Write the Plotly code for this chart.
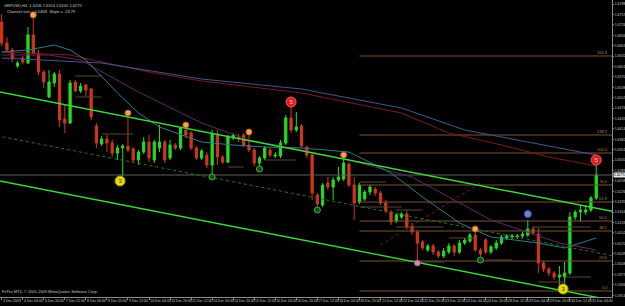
import plotly.graph_objects as go

# ---------------- data ----------------
bars = list(range(114))
opens = [1.6734,1.6671,1.6650,1.6602,1.6626,1.6611,1.6695,1.6641,1.6584,1.6509,
         1.6551,1.6578,1.6443,1.6431,1.6554,1.6527,1.6545,1.6533,1.6422,1.6368,
         1.6383,1.6371,1.6341,1.6356,1.6362,1.6353,1.6320,1.6344,1.6374,1.6320,
         1.6356,1.6374,1.6326,1.6365,1.6356,1.6410,1.6401,1.6356,1.6326,1.6335,
         1.6305,1.6398,1.6329,1.6314,1.6386,1.6389,1.6395,1.6365,1.6350,1.6311,
         1.6326,1.6350,1.6332,1.6332,1.6371,1.6446,1.6410,1.6422,1.6359,1.6335,
         1.6215,1.6185,1.6251,1.6239,1.6260,1.6263,1.6308,1.6245,1.6194,1.6203,
         1.6224,1.6233,1.6221,1.6191,1.6164,1.6137,1.6149,1.6158,1.6122,1.6104,
         1.6074,1.6050,1.6062,1.6044,1.6032,1.6044,1.6062,1.6044,1.6071,1.6077,
         1.6095,1.6050,1.6080,1.6044,1.6056,1.6071,1.6086,1.6089,1.6089,1.6092,
         1.6095,1.6113,1.6098,1.6011,1.5993,1.5981,1.5969,1.5969,1.5981,1.6149,
         1.6164,1.6164,1.6170,1.6206]
highs = [1.6758,1.6689,1.6656,1.6617,1.6632,1.6719,1.6749,1.6650,1.6590,1.6590,
         1.6584,1.6590,1.6485,1.6560,1.6560,1.6551,1.6548,1.6536,1.6431,1.6392,
         1.6395,1.6380,1.6365,1.6368,1.6455,1.6359,1.6350,1.6389,1.6395,1.6380,
         1.6425,1.6380,1.6380,1.6371,1.6419,1.6425,1.6407,1.6362,1.6353,1.6344,
         1.6410,1.6410,1.6335,1.6395,1.6401,1.6398,1.6401,1.6398,1.6356,1.6332,
         1.6362,1.6356,1.6344,1.6380,1.6455,1.6488,1.6464,1.6428,1.6362,1.6341,
         1.6221,1.6251,1.6269,1.6269,1.6299,1.6329,1.6314,1.6269,1.6251,1.6230,
         1.6245,1.6239,1.6227,1.6200,1.6170,1.6161,1.6164,1.6170,1.6131,1.6110,
         1.6080,1.6068,1.6068,1.6050,1.6056,1.6071,1.6068,1.6080,1.6086,1.6101,
         1.6107,1.6056,1.6086,1.6065,1.6080,1.6095,1.6098,1.6098,1.6098,1.6104,
         1.6140,1.6122,1.6116,1.6017,1.5999,1.5987,1.6002,1.6014,1.6164,1.6170,
         1.6185,1.6185,1.6212,1.6314]
lows = [1.6662,1.6641,1.6614,1.6596,1.6608,1.6608,1.6635,1.6575,1.6536,1.6506,
        1.6539,1.6419,1.6401,1.6428,1.6524,1.6521,1.6512,1.6440,1.6356,1.6362,
        1.6344,1.6329,1.6320,1.6272,1.6344,1.6311,1.6305,1.6338,1.6314,1.6311,
        1.6344,1.6311,1.6320,1.6350,1.6350,1.6386,1.6350,1.6320,1.6320,1.6296,
        1.6275,1.6305,1.6308,1.6311,1.6380,1.6374,1.6359,1.6344,1.6302,1.6299,
        1.6320,1.6329,1.6326,1.6326,1.6365,1.6401,1.6404,1.6356,1.6326,1.6200,
        1.6176,1.6179,1.6230,1.6200,1.6254,1.6257,1.6239,1.6140,1.6188,1.6197,
        1.6215,1.6212,1.6185,1.6161,1.6125,1.6131,1.6143,1.6113,1.6095,1.6011,
        1.6050,1.6044,1.6035,1.6026,1.6026,1.6038,1.6032,1.6038,1.6065,1.6071,
        1.6044,1.6026,1.6038,1.6038,1.6050,1.6065,1.6080,1.6083,1.6083,1.6086,
        1.6089,1.6095,1.5981,1.5984,1.5972,1.5960,1.5945,1.5942,1.5975,1.6140,
        1.6134,1.6155,1.6164,1.6200]
closes = [1.6671,1.6650,1.6623,1.6611,1.6614,1.6695,1.6641,1.6584,1.6554,1.6554,
          1.6578,1.6440,1.6431,1.6551,1.6527,1.6542,1.6530,1.6449,1.6371,1.6383,
          1.6371,1.6341,1.6356,1.6362,1.6350,1.6320,1.6344,1.6374,1.6326,1.6374,
          1.6374,1.6320,1.6365,1.6356,1.6416,1.6395,1.6356,1.6326,1.6347,1.6305,
          1.6398,1.6329,1.6314,1.6389,1.6395,1.6383,1.6365,1.6350,1.6311,1.6326,
          1.6356,1.6335,1.6335,1.6371,1.6446,1.6410,1.6419,1.6362,1.6335,1.6221,
          1.6188,1.6245,1.6239,1.6260,1.6269,1.6311,1.6245,1.6191,1.6245,1.6224,
          1.6239,1.6221,1.6191,1.6167,1.6134,1.6155,1.6158,1.6119,1.6104,1.6071,
          1.6056,1.6062,1.6044,1.6032,1.6047,1.6062,1.6044,1.6071,1.6080,1.6095,
          1.6050,1.6038,1.6044,1.6059,1.6071,1.6089,1.6092,1.6092,1.6092,1.6098,
          1.6113,1.6101,1.6011,1.5993,1.5981,1.5969,1.5975,1.5981,1.6149,1.6164,
          1.6170,1.6170,1.6206,1.6275]

date_tick_bars = list(range(0, 114, 4))
date_labels = ["3 Dec 2009", "4 Dec 04:00", "4 Dec 20:00", "7 Dec 12:00", "8 Dec 04:00",
               "8 Dec 20:00", "9 Dec 12:00", "10 Dec 04:00", "10 Dec 20:00", "11 Dec 12:00",
               "14 Dec 04:00", "14 Dec 20:00", "15 Dec 12:00", "16 Dec 04:00", "16 Dec 20:00",
               "17 Dec 12:00", "18 Dec 04:00", "18 Dec 20:00", "21 Dec 12:00", "22 Dec 04:00",
               "22 Dec 20:00", "23 Dec 12:00", "24 Dec 04:00", "24 Dec 20:00", "28 Dec 12:00",
               "29 Dec 04:00", "29 Dec 20:00", "30 Dec 12:00", "31 Dec 04:00"]

price_ticks = [1.6788, 1.6757, 1.6726, 1.6694, 1.6663, 1.6632, 1.6601, 1.6570, 1.6538,
               1.6507, 1.6476, 1.6445, 1.6414, 1.6382, 1.6351, 1.6320, 1.6289, 1.6258,
               1.6226, 1.6195, 1.6164, 1.6133, 1.6102, 1.6070, 1.6039, 1.6008, 1.5977,
               1.5946, 1.5914]

# moving averages (sampled at bar indices)
ma_fast_x = [0, 5, 10, 13, 16, 19, 22, 26, 30, 38, 44, 50, 57, 66, 74, 80, 87, 93, 102, 107, 112, 113]
ma_fast_y = [1.6644, 1.6650, 1.6665, 1.6650, 1.6620, 1.6569, 1.6521, 1.6461, 1.6419, 1.6374, 1.6365,
             1.6359, 1.6356, 1.6344, 1.6281, 1.6209, 1.6131, 1.6089, 1.6071, 1.6056, 1.6080, 1.6086]
ma_mid_x = [0, 9, 15, 26, 38, 47, 57, 66, 78, 93, 106, 113]
ma_mid_y = [1.6635, 1.6635, 1.6620, 1.6524, 1.6431, 1.6380, 1.6350, 1.6320, 1.6269, 1.6140, 1.6071, 1.6050]
ma_slow_red_x = [0, 13, 19, 28, 38, 57, 76, 85, 95, 104, 113]
ma_slow_red_y = [1.6644, 1.6635, 1.6614, 1.6584, 1.6557, 1.6521, 1.6461, 1.6401, 1.6365, 1.6329, 1.6302]
ma_slow_blue_x = [0, 19, 38, 57, 76, 88, 100, 113]
ma_slow_blue_y = [1.6626, 1.6611, 1.6563, 1.6533, 1.6476, 1.6410, 1.6374, 1.6335]

# regression channel
chan_x = [-1, 117]
chan_upper = [1.6526, 1.6163]
chan_mid = [1.6393, 1.6030]
chan_lower = [1.6259, 1.5896]
red_diag_x = [72, 91]
red_diag_y = [1.6065, 1.6251]

# fibonacci levels
fib_start = 68
fib_levels = [1.6632, 1.6395, 1.6341, 1.6245, 1.6194, 1.6137, 1.6107, 1.6017, 1.5927]
fib_names = ["161.8", "138.2", "100.0", "76.4", "61.8", "50.0", "38.2", "23.6", "0.0"]

# short support / resistance segments (start bar, end bar, price)
seg_x0 = [14, 14, 19, 43, 50, 68, 68, 75, 75, 79, 85, 92, 101, 102, 107]
seg_x1 = [19, 19, 25, 46, 56, 73, 76, 80, 84, 84, 90, 97, 112, 107, 112]
seg_y = [1.6572, 1.6509, 1.6398, 1.6299, 1.6320, 1.6254, 1.6179, 1.6170, 1.6119, 1.6014, 1.6086,
         1.6020, 1.6119, 1.5954, 1.5969]

# signal markers
frac_up_x = [6, 24, 35, 47, 65, 90]
frac_up_y = [1.6755, 1.6461, 1.6425, 1.6404, 1.6335, 1.6113]
frac_dn_x = [40, 49, 60, 91]
frac_dn_y = [1.6269, 1.6293, 1.6170, 1.6020]
red_sig_x = [55, 113]
red_sig_y = [1.6494, 1.6320]
yel_sig_x = [22.5, 106.7]
yel_sig_y = [1.6257, 1.5933]
blue_sig_x = [100]
blue_sig_y = [1.6158]
pink_sig_x = [79]
pink_sig_y = [1.6011]

# ---------------- figure ----------------
fig = go.Figure()

def line(x, y, color, width=1, dash="solid"):
    fig.add_trace(go.Scatter(x=x, y=y, mode="lines", hoverinfo="skip",
                             line=dict(color=color, width=width, dash=dash)))

# bid line, fib and segments (behind)
line([-1, 117], [closes[-1], closes[-1]], "#5e5e5e", 1)
fx, fy = [], []
for lv in fib_levels:
    fx += [fib_start, 117, None]
    fy += [lv, lv, None]
line(fx, fy, "#7a5230", 1)
sx, sy = [], []
for a, b, v in zip(seg_x0, seg_x1, seg_y):
    sx += [a, b, None]
    sy += [v, v, None]
line(sx, sy, "#5a4636", 1)

# moving averages
line(ma_slow_red_x, ma_slow_red_y, "#7e1a1a", 1)
line(ma_slow_blue_x, ma_slow_blue_y, "#44568e", 1)
line(ma_mid_x, ma_mid_y, "#5e2a5c", 1)
line(ma_fast_x, ma_fast_y, "#2f7c8a", 1)
line(red_diag_x, red_diag_y, "#7a2020", 1, "dot")

fig.add_trace(go.Candlestick(
    x=bars, open=opens, high=highs, low=lows, close=closes,
    increasing=dict(line=dict(color="#22dd22", width=1), fillcolor="#22dd22"),
    decreasing=dict(line=dict(color="#d2361c", width=1), fillcolor="#d2361c"),
    whiskerwidth=0, hoverinfo="skip"))

# channel
line(chan_x, chan_upper, "#3ad83a", 1.4)
line(chan_x, chan_lower, "#3ad83a", 1.4)
line(chan_x, chan_mid, "#1f7a1f", 1, "dot")

def marks(x, y, size, fill, edge, text=None, tcolor="#000000"):
    fig.add_trace(go.Scatter(x=x, y=y, mode="markers+text" if text else "markers",
                             text=text, textposition="middle center",
                             textfont=dict(size=6, color=tcolor, family="Liberation Sans"),
                             hoverinfo="skip",
                             marker=dict(size=size, color=fill, line=dict(color=edge, width=1))))

marks(frac_up_x, frac_up_y, 6, "#f2a55a", "#b8601c")
marks(frac_dn_x, frac_dn_y, 6, "#164c16", "#3cb43c")
marks(blue_sig_x, blue_sig_y, 7, "#6f7fe0", "#4050b0")
marks(pink_sig_x, pink_sig_y, 6, "#d888b0", "#a05080")
marks(red_sig_x, red_sig_y, 10, "#e01c1c", "#ff5a5a", ["5"] * len(red_sig_x), "#ffd0d0")
marks(yel_sig_x, yel_sig_y, 10, "#e6dc14", "#a89c00", ["3"] * len(yel_sig_x), "#303000")

tiny = dict(size=4, color="#c8c8c8", family="Liberation Sans")
ann = []
ann.append(dict(xref="paper", yref="paper", x=0.003, y=0.997, xanchor="left", yanchor="top",
                text="GBPUSD,H4  %.4f %.4f %.4f %.4f" % (opens[-1], highs[-1], lows[-1], closes[-1]),
                showarrow=False, font=tiny))
ann.append(dict(xref="paper", yref="paper", x=0.008, y=0.978, xanchor="left", yanchor="top",
                text="Channel size = 0.0468  Slope = -23.79", showarrow=False, font=tiny))
ann.append(dict(xref="paper", yref="paper", x=0.0, y=0.004, xanchor="left", yanchor="bottom",
                text="FxPro MT4, \u00a9 2001-2009 MetaQuotes Software Corp.", showarrow=False, font=tiny))
for lv, nm in zip(fib_levels, fib_names):
    ann.append(dict(xref="paper", yref="y", x=0.997, y=lv, xanchor="right", yanchor="bottom",
                    text=nm, showarrow=False, yshift=-1,
                    font=dict(size=4, color="#b08650", family="Liberation Sans")))
ann.append(dict(xref="paper", yref="y", x=1.0, y=closes[-1], xanchor="left", yanchor="middle",
                text="%.4f" % closes[-1], showarrow=False, bgcolor="#e8e8e8", borderpad=0,
                xshift=1, font=dict(size=3.5, color="#000000", family="Liberation Sans")))
# date labels drawn just right of each tick
for b, lab in zip(date_tick_bars, date_labels):
    ann.append(dict(xref="x", yref="paper", x=b, y=0, xanchor="left", yanchor="top",
                    text=lab, showarrow=False, xshift=0, yshift=-1, borderpad=0,
                    font=dict(size=3.5, color="#c8c8c8", family="Liberation Sans")))

fig.update_layout(
    width=625, height=306,
    margin=dict(l=0, r=13, t=0, b=9),
    paper_bgcolor="#000000", plot_bgcolor="#000000",
    showlegend=False, boxgap=0.4,
    annotations=ann,
    xaxis=dict(range=[-0.32, 116.0], showgrid=False, zeroline=False,
               rangeslider=dict(visible=False),
               showline=True, linecolor="#8a8a8a", linewidth=1, mirror=True,
               tickmode="array", tickvals=date_tick_bars, showticklabels=False,
               ticks="outside", ticklen=2, tickcolor="#8a8a8a",
               automargin=False, fixedrange=True),
    yaxis=dict(range=[1.5909, 1.6800], side="right", showgrid=False, zeroline=False,
               showline=True, linecolor="#8a8a8a", linewidth=1, mirror=True,
               tickmode="array", tickvals=price_ticks,
               ticktext=["%.4f" % v for v in price_ticks],
               ticks="outside", ticklen=1, tickcolor="#8a8a8a", ticklabelstandoff=0,
               tickfont=dict(size=3.5, color="#c8c8c8", family="Liberation Sans"),
               automargin=False, fixedrange=True),
)

fig.write_html("out.html", config={"displayModeBar": False})
